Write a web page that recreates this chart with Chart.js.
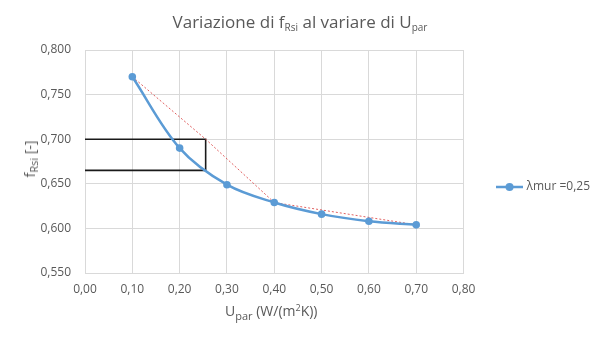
<!DOCTYPE html>
<html>
<head>
<meta charset="utf-8">
<script src="https://cdn.jsdelivr.net/npm/chart.js@4.4.1/dist/chart.umd.min.js"></script>
<style>
body { margin: 0; background: #fff; }
#wrap { position: relative; width: 600px; height: 338px; font-family: "Open Sans", sans-serif; color: #595959; }
.t { position: absolute; white-space: nowrap; line-height: 1; }
.t sub, .t sup { position: relative; vertical-align: baseline; line-height: 0; }
#title { left: 300px; top: 12.6px; font-size: 17px; transform: translateX(-50%); }
#title sub { font-size: 10px; top: 3.3px; }
#xt { left: 225px; top: 304.3px; font-size: 14px; }
#xt sub { font-size: 11px; top: 3.3px; }
#xt sup { font-size: 9px; top: -5px; }
#yt { left: 30px; top: 158.5px; font-size: 14px; transform: translate(-50%, -50%) rotate(-90deg); }
#yt sub { font-size: 11px; top: 3.3px; }
</style>
</head>
<body>
<div id="wrap">
  <canvas id="myChart" width="600" height="338"></canvas>
  <div class="t" id="title">Variazione di f<sub>Rsi</sub> al variare di U<sub>par</sub></div>
  <div class="t" id="xt">U<sub>par</sub> (W/(m<sup>2</sup>K))</div>
  <div class="t" id="yt">f<sub>Rsi</sub> [-]</div>
</div>
<script>
"use strict";
// serie λmur = 0,25
var uPar = [0.10, 0.20, 0.30, 0.40, 0.50, 0.60, 0.70];
var fRsi = [0.770, 0.690, 0.649, 0.629, 0.616, 0.608, 0.604];
var serieLabel = "λmur =0,25";

// linea rossa tratteggiata
var redX = [0.10, 0.255, 0.40, 0.70];
var redY = [0.770, 0.700, 0.629, 0.604];

// rettangolo nero
var boxX = [0, 0.255, 0.255, 0];
var boxY = [0.700, 0.700, 0.665, 0.665];

var xMin = 0, xMax = 0.8, xStep = 0.1;
var yMin = 0.55, yMax = 0.8, yStep = 0.05;

var blue = "#5b9bd5";
var grey = "#595959";
var gridGrey = "#d9d9d9";

function toPoints(xs, ys) {
    var out = [];
    for (var i = 0; i < xs.length; i++) {
        out.push({ x: xs[i], y: ys[i] });
    }
    return out;
}

// simbolo legenda: linea con marker
var mk = document.createElement("canvas");
mk.width = 27;
mk.height = 10;
var g = mk.getContext("2d");
g.strokeStyle = blue;
g.lineWidth = 2.5;
g.beginPath();
g.moveTo(0, 5);
g.lineTo(27, 5);
g.stroke();
g.fillStyle = blue;
g.beginPath();
g.arc(13.5, 5, 4, 0, 2 * Math.PI);
g.fill();

var ctx = document.getElementById("myChart").getContext("2d");
var myChart = new Chart(ctx, {
    type: "scatter",
    data: {
        datasets: [
            {
                label: serieLabel,
                data: toPoints(uPar, fRsi),
                showLine: true,
                borderColor: blue,
                backgroundColor: blue,
                borderWidth: 2.5,
                pointRadius: 3.8,
                pointBorderWidth: 0,
                tension: 0.35,
            },
            {
                label: "red",
                data: toPoints(redX, redY),
                showLine: true,
                borderColor: "#e06060",
                borderWidth: 1,
                borderDash: [2, 2],
                pointRadius: 0,
                tension: 0,
            },
            {
                label: "box",
                data: toPoints(boxX, boxY),
                showLine: true,
                borderColor: "#1a1a1a",
                borderWidth: 1.6,
                pointRadius: 0,
                tension: 0,
            },
        ],
    },
    options: {
        responsive: false,
        animation: false,
        layout: { padding: { top: 50, bottom: 0, left: 0, right: 0 } },
        plugins: {
            tooltip: { enabled: false },
            legend: {
                position: "right",
                align: "start",
                maxWidth: 138,
                title: { display: true, text: " ", font: { size: 12 }, padding: { top: 0, bottom: 81.6 } },
                labels: {
                    filter: function (item) {
                        return item.datasetIndex === 0;
                    },
                    usePointStyle: true,
                    pointStyle: mk,
                    pointStyleWidth: 22,
                    padding: 35,
                    color: grey,
                    font: { family: "Open Sans", size: 12 },
                },
            },
        },
        scales: {
            x: {
                type: "linear",
                min: xMin,
                max: xMax,
                afterFit: function (s) {
                    s.height = 65;
                },
                ticks: {
                    stepSize: xStep,
                    padding: 9,
                    color: grey,
                    font: { family: "Open Sans", size: 12 },
                    callback: function (v) {
                        return v.toFixed(2).replace(".", ",");
                    },
                },
                grid: { color: gridGrey, drawTicks: false },
                border: { color: gridGrey },
            },
            y: {
                min: yMin,
                max: yMax,
                afterFit: function (s) {
                    s.width = 85;
                },
                ticks: {
                    stepSize: yStep,
                    padding: 14,
                    color: grey,
                    font: { family: "Open Sans", size: 12 },
                    callback: function (v) {
                        return v.toFixed(3).replace(".", ",");
                    },
                },
                grid: { color: gridGrey, drawTicks: false },
                border: { color: gridGrey },
            },
        },
    },
});
</script>
</body>
</html>
